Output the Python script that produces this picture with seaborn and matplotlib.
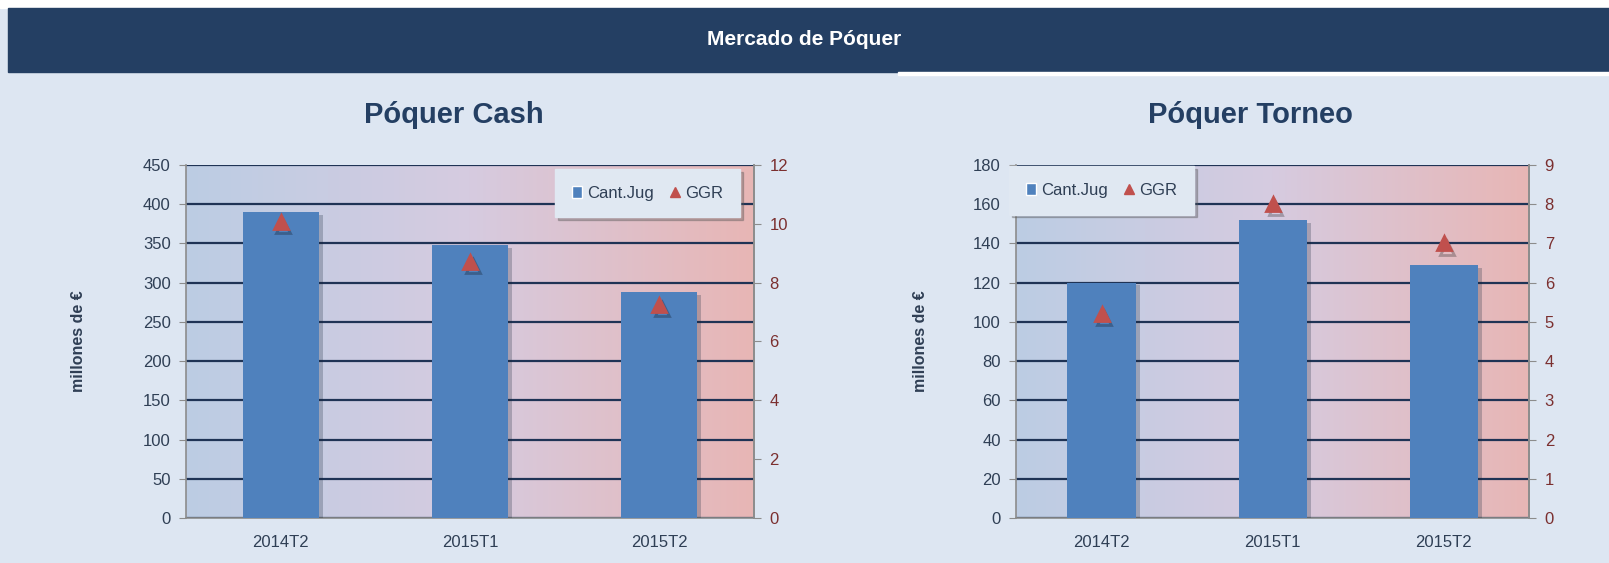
import numpy as np
import pandas as pd
import seaborn as sns
import matplotlib.pyplot as plt
import matplotlib.patheffects as pe
from matplotlib.colors import LinearSegmentedColormap
from matplotlib.lines import Line2D
from matplotlib.patches import Patch, Rectangle

# data
periods = ['2014T2', '2015T1', '2015T2']
cash_jug = [390, 348, 288]
cash_ggr = [10.05, 8.7, 7.25]
torneo_jug = [120, 152, 129]
torneo_ggr = [5.2, 8.0, 7.0]

BLUE = '#4f81bd'
RED = '#c0504d'
NAVY = '#243f63'
BG = '#dde6f2'
LEFT_TXT = '#2f3f55'
RIGHT_TXT = '#7b2f2f'

sns.set_style('white')
plt.rcParams['font.family'] = ['Liberation Sans', 'DejaVu Sans']

fig = plt.figure(figsize=(16.09, 5.63), dpi=100, facecolor=BG)

# header band
fig.patches.append(Rectangle((0, 0.986), 1, 0.014, transform=fig.transFigure,
                             color='white', zorder=0))
fig.patches.append(Rectangle((0.005, 0.872), 0.995, 0.114, transform=fig.transFigure,
                             color=NAVY, zorder=1))
fig.patches.append(Rectangle((0.558, 0.866), 0.442, 0.006, transform=fig.transFigure,
                             color='white', zorder=1))
fig.text(0.5, 0.929, 'Mercado de Póquer', color='white', fontsize=15,
         fontweight='bold', ha='center', va='center')

grad = LinearSegmentedColormap.from_list('bg', ['#bccde4', '#d6cbe0', '#e8b6b5'])


def draw_panel(rect, title, title_x, jug, ggr, ymax, ystep, rmax, legend_loc, legend_anchor, label_x):
    ax = fig.add_axes(rect)
    df = pd.DataFrame({'periodo': periods, 'Cant.Jug': jug, 'GGR': ggr})

    ax.imshow(np.linspace(0, 1, 256).reshape(1, -1), cmap=grad, aspect='auto',
              extent=[0, 1, 0, 1], transform=ax.transAxes, zorder=0)

    sns.barplot(data=df, x='periodo', y='Cant.Jug', color=BLUE, width=0.40,
                saturation=1, linewidth=0, ax=ax, zorder=3)
    for bar in ax.patches:
        bar.set_path_effects([pe.SimplePatchShadow(offset=(3, -2), alpha=0.25), pe.Normal()])

    ax.set_xlim(-0.5, 2.5)
    ax.set_ylim(0, ymax)
    ax.set_yticks(np.arange(0, ymax + 1, ystep))
    ax.grid(axis='y', color='#1f3355', linewidth=1.6, zorder=1)
    for line in ax.get_ygridlines():
        line.set_zorder(1)
    ax.set_xticks([-0.5, 0.5, 1.5, 2.5])
    ax.set_xticklabels([])
    ax.set_xticks([0, 1, 2], minor=True)
    ax.set_xticklabels(periods, minor=True)
    ax.tick_params(axis='x', which='major', length=6, color='#8c8c8c', direction='out')
    ax.tick_params(axis='x', which='minor', length=0, pad=12, labelsize=12, labelcolor=LEFT_TXT)
    ax.tick_params(axis='y', length=5, color='#8c8c8c', labelsize=12, labelcolor=LEFT_TXT, pad=6)
    ax.set_xlabel('')
    ax.set_ylabel('millones de €', fontsize=11.5, fontweight='bold', color=LEFT_TXT)
    ax.yaxis.set_label_coords(label_x, 0.5)
    ax.spines['top'].set_visible(False)
    for s in ['left', 'bottom', 'right']:
        ax.spines[s].set_color('#8c8c8c')
        ax.spines[s].set_linewidth(1.2)
    ax.set_title(title, x=title_x, fontsize=21, fontweight='bold', color=NAVY, pad=30)

    ax2 = ax.twinx()
    sns.pointplot(data=df, x='periodo', y='GGR', color=RED, markers='^', linestyle='none',
                  markersize=10, ax=ax2, zorder=5)
    for coll in ax2.collections + ax2.lines:
        coll.set_path_effects([pe.SimpleLineShadow(offset=(2, -3), alpha=0.25), pe.Normal()])
    ax2.set_xlim(-0.5, 2.5)
    ax2.set_ylim(0, rmax)
    ax2.set_yticks(np.arange(0, rmax + 1, 2 if rmax == 12 else 1))
    ax2.tick_params(axis='y', length=5, color='#8c8c8c', labelsize=12, labelcolor=RIGHT_TXT, pad=6)
    ax2.set_ylabel('')
    ax2.set_xlabel('')
    ax2.spines['top'].set_visible(False)
    ax2.spines['right'].set_color('#8c8c8c')
    ax2.spines['right'].set_linewidth(1.2)
    ax2.spines['left'].set_visible(False)
    ax2.spines['bottom'].set_visible(False)
    ax2.grid(False)

    handles = [Patch(facecolor=BLUE, label='Cant.Jug'),
               Line2D([], [], marker='^', color=RED, linestyle='none', markersize=7, label='GGR')]
    leg = ax2.legend(handles=handles, loc=legend_loc, bbox_to_anchor=legend_anchor, ncol=2,
                     frameon=True, fancybox=False, shadow={'color': '#555555', 'alpha': 0.35},
                     fontsize=12, handlelength=0.6, handletextpad=0.3, columnspacing=1.0,
                     borderpad=1.0, labelcolor=LEFT_TXT)
    leg.get_frame().set_facecolor('#e0e8f2')
    leg.get_frame().set_edgecolor('#e0e8f2')
    leg.set_zorder(10)
    return ax, ax2


draw_panel([0.1156, 0.080, 0.353, 0.627], 'Póquer Cash', 0.471, cash_jug, cash_ggr,
           450, 50, 12, 'upper right', (0.99, 1.012), -0.176)
draw_panel([0.6315, 0.080, 0.319, 0.627], 'Póquer Torneo', 0.456, torneo_jug, torneo_ggr,
           180, 20, 9, 'upper left', (-0.03, 1.02), -0.172)

fig.savefig('out.png', dpi=100, facecolor=BG)
